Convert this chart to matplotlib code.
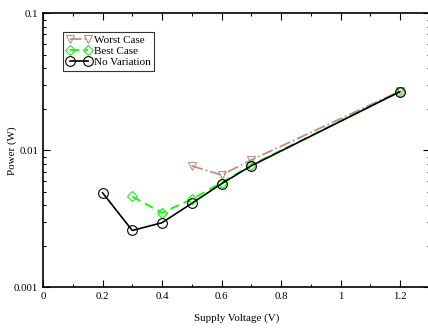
import matplotlib.pyplot as plt
from matplotlib.ticker import MultipleLocator, LogLocator, NullFormatter, FixedFormatter, FixedLocator

plt.rcParams['font.family'] = ['Liberation Serif', 'DejaVu Serif']

# data
v_worst = [0.5, 0.6, 0.7, 1.2]
p_worst = [0.0077, 0.0066, 0.0085, 0.027]

v_best = [0.3, 0.4, 0.5, 0.6, 0.7, 1.2]
p_best = [0.0046, 0.0035, 0.0044, 0.0058, 0.0078, 0.0268]

v_nom = [0.2, 0.3, 0.4, 0.5, 0.6, 0.7, 1.2]
p_nom = [0.0049, 0.0026, 0.00296, 0.0041, 0.0057, 0.0077, 0.0268]

xticks = [0, 0.2, 0.4, 0.6, 0.8, 1, 1.2]
xticklabels = ['0', '0.2', '0.4', '0.6', '0.8', '1', '1.2']

fig = plt.figure(figsize=(4.28, 3.29), dpi=100)
ax = fig.add_axes([0.1005, 0.1267, 0.9036, 0.833])

ax.plot(v_worst, p_worst, color='#bc8f8f', linestyle='-.', linewidth=1.3,
        marker='v', markersize=6, markerfacecolor='none', markeredgewidth=0.8,
        label='Worst Case')
ax.plot(v_best, p_best, color='#00ff00', linestyle='--', dashes=(5, 3), linewidth=1.3,
        marker='D', markersize=5, markerfacecolor='none', markeredgewidth=0.8,
        label='Best Case')
ax.plot(v_nom, p_nom, color='black', linestyle='-', linewidth=1.2,
        marker='o', markersize=7, markerfacecolor='none', markeredgewidth=0.8,
        label='No Variation')

ax.set_yscale('log')
ax.set_ylim(0.001, 0.1)
ax.set_xlim(0, 1.3)

ax.xaxis.set_major_locator(FixedLocator(xticks))
ax.xaxis.set_major_formatter(FixedFormatter(xticklabels))
ax.xaxis.set_minor_locator(MultipleLocator(0.1))
ax.yaxis.set_major_locator(FixedLocator([0.001, 0.01, 0.1]))
ax.yaxis.set_major_formatter(FixedFormatter(['0.001', '0.01', '0.1']))
ax.yaxis.set_minor_locator(LogLocator(base=10, subs=range(2, 10)))
ax.yaxis.set_minor_formatter(NullFormatter())

ax.tick_params(which='both', direction='in', top=True, right=True, labelsize=7.8)
ax.tick_params(which='major', length=5, width=0.8)
ax.tick_params(which='minor', length=2.5, width=0.8)
for s in ax.spines.values():
    s.set_linewidth(1.2)

ax.set_xlabel('Supply Voltage (V)', fontsize=7.9, labelpad=9)
ax.set_ylabel('Power (W)', fontsize=7.9)
ax.yaxis.set_label_coords(-0.068, 0.5)

leg = ax.legend(loc='upper left', bbox_to_anchor=(0.052, 0.932), numpoints=2,
                fontsize=8, frameon=True, fancybox=False, edgecolor='black',
                handlelength=2.2, handletextpad=0.3, borderpad=0.3,
                labelspacing=0.12, borderaxespad=0)
leg.get_frame().set_linewidth(0.8)

fig.savefig('out.png', dpi=100)
